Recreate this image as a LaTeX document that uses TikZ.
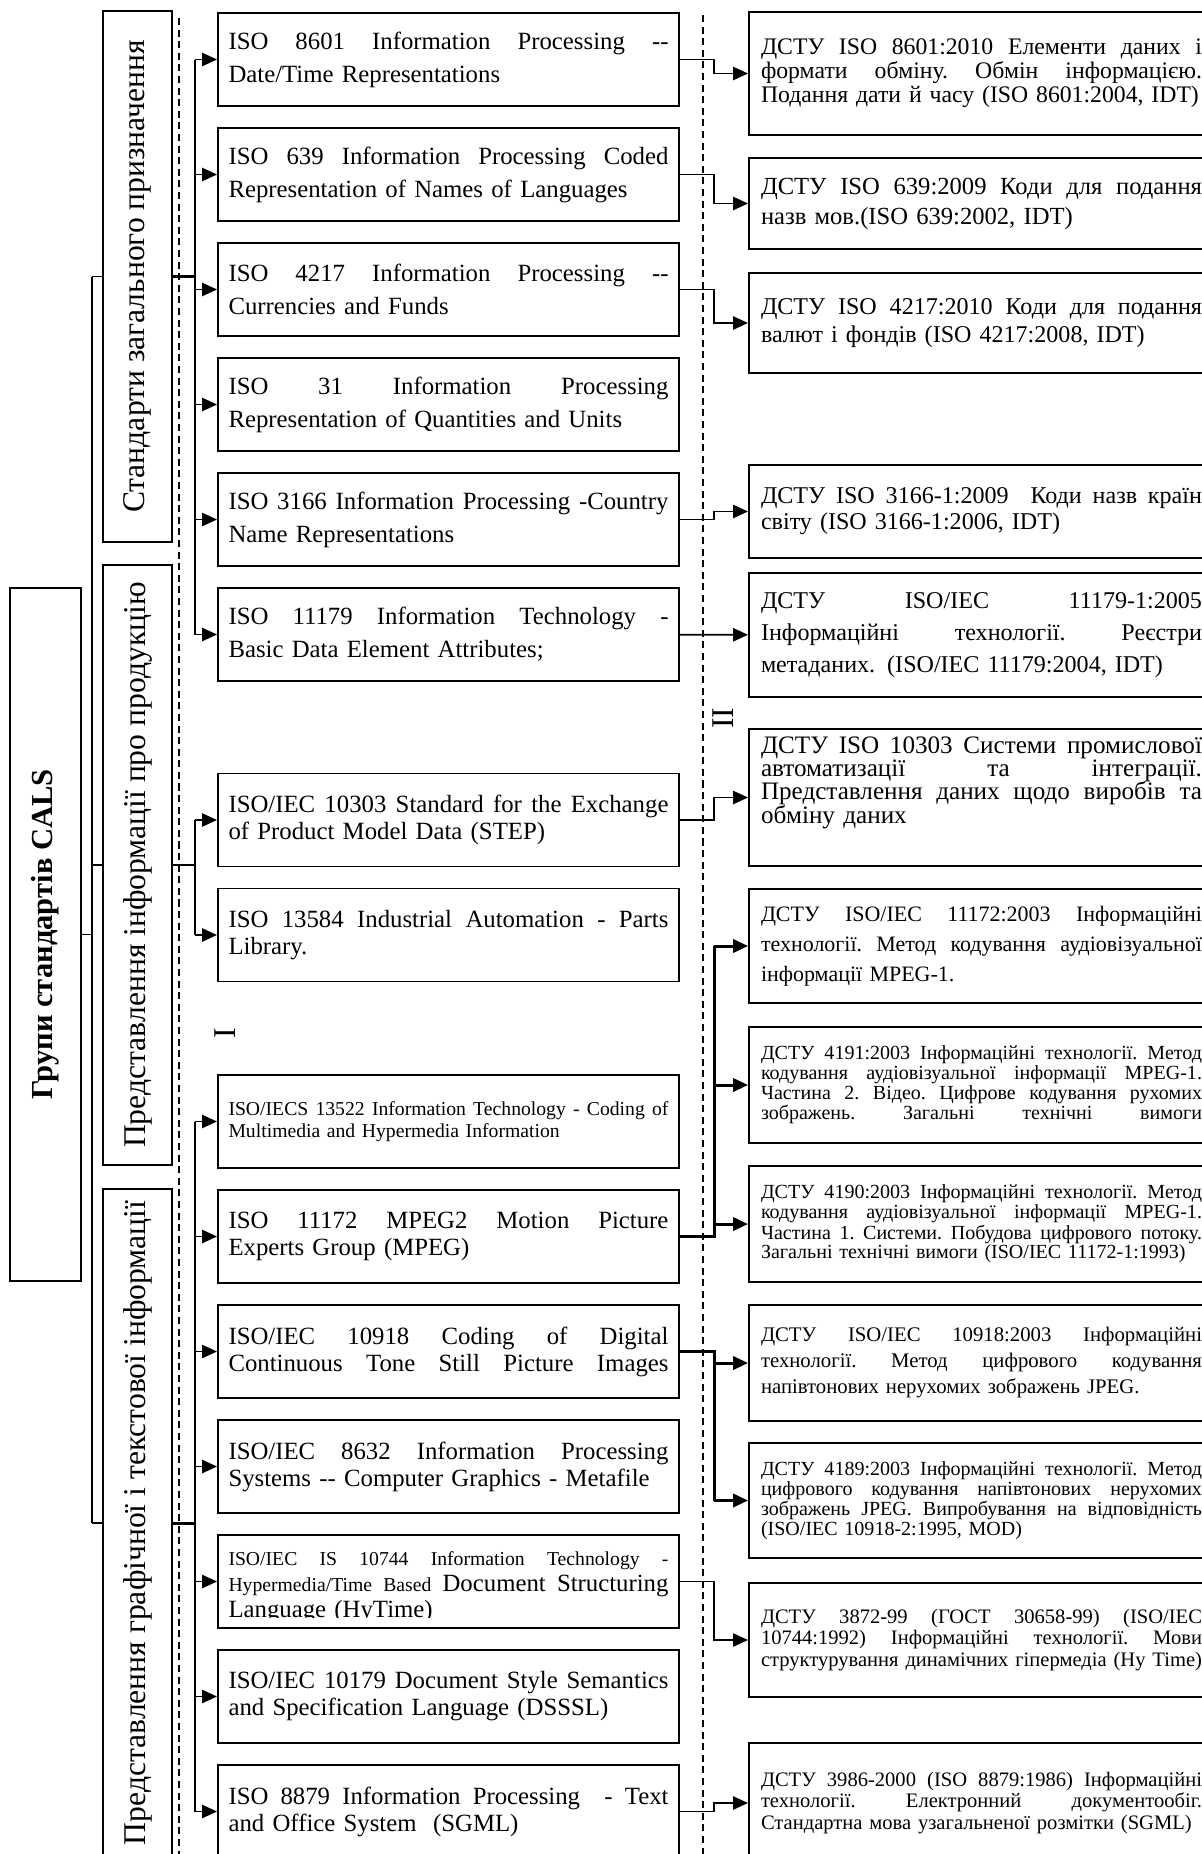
\documentclass[tikz,border=0pt]{standalone}
\usepackage{fontspec}
\setmainfont{Liberation Serif}
\usetikzlibrary{arrows.meta}

\lineskiplimit=-100pt
\newcommand{\jl}[2][8.8cm]{\leavevmode\hbox to #1{\frenchspacing\spaceskip=.25em plus 1fil\relax#2}}
\newcommand{\twohyph}{-\kern0pt\relax-}

\begin{document}
\begin{tikzpicture}[line width=1.1pt,
	midbox/.style={draw, text width=8.8cm, inner xsep=0.21cm, inner ysep=0pt, minimum height=1.86cm, align=left, font=\fontsize{14.1}{18.8}\selectfont},
	tight/.style={font=\fontsize{14.1}{15.4}\selectfont},
	rbox/.style={draw, text width=8.82cm, inner xsep=0.24cm, inner ysep=0pt, align=left},
	grpbox/.style={draw, rotate=90, minimum height=1.38cm, inner sep=0pt, font=\fontsize{18}{20}\selectfont},
	arr/.style={-{Triangle[length=8.5pt,width=7.5pt]}},
	busline/.style={line width=1.7pt},
	sepline/.style={dash pattern=on 4pt off 2.6pt}]
		\useasboundingbox (0,0) rectangle (24.04,-37.08);
		
		\node[draw, rotate=90, minimum width=13.86cm, minimum height=1.42cm, inner sep=0pt, font=\bfseries\fontsize{17.4}{20}\selectfont](CALS) at (0.91,-18.69){Групи стандартів CALS};
		
		\node[grpbox, minimum width=10.62cm](G1) at (2.75,-5.53){Стандарти загального призначення};
		\node[grpbox, minimum width=12cm](G2) at (2.75,-17.3){Представлення інформації про продукцію};
		\node[grpbox, minimum width=13.36cm](G3) at (2.75,-30.46){Представлення графічної і текстової інформації};
		
		\coordinate(V) at (1.84,0);
		\draw (CALS) -- (V |- CALS);
		\draw (V |- G1) -- (V |- G3);
		\draw (V |- G1) -- (G1);
		\draw (V |- G2) -- (G2);
		\draw (V |- G3) -- (G3);
		
		\draw[sepline] (3.58,-0.36) -- (3.58,-37.2);
		\draw[sepline] (14.06,-0.3) -- (14.06,-37.2);
		\node[rotate=90, font=\fontsize{18}{20}\selectfont](LI) at (4.5,-20.66){I};
		\node[rotate=90, font=\fontsize{18}{20}\selectfont](LII) at (14.46,-14.36){II};
		
		\node[midbox](M1) at (8.97,-1.19){\jl{ISO 8601 Information Processing \twohyph}\\Date/Time Representations};
		\node[midbox, below of=M1, node distance=2.3cm](M2){\jl{ISO 639 Information Processing Coded}\\Representation of Names of Languages};
		\node[midbox, below of=M2, node distance=2.3cm](M3){\jl{ISO 4217 Information Processing \twohyph}\\Currencies and Funds};
		\node[midbox, below of=M3, node distance=2.3cm](M4){\jl{ISO 31 Information Processing}\\Representation of Quantities and Units};
		\node[midbox, below of=M4, node distance=2.3cm](M5){\jl{ISO 3166 Information Processing -Country}\\Name Representations};
		\node[midbox, below of=M5, node distance=2.3cm](M6){\jl{ISO 11179 Information Technology -}\\Basic Data Element Attributes;};
		
		\node[midbox, tight, below of=M6, node distance=3.71cm](M7){\jl{ISO/IEC 10303 Standard for the Exchange}\\of Product Model Data (STEP)};
		\node[midbox, tight, below of=M7, node distance=2.3cm](M8){\jl{ISO 13584 Industrial Automation - Parts}\\Library.};
		
		\node[midbox, font=\fontsize{11.2}{12.5}\selectfont, below of=M8, node distance=3.73cm](M9){\jl{ISO/IECS 13522 Information Technology - Coding of}\\Multimedia and Hypermedia Information};
		\node[midbox, tight, below of=M9, node distance=2.3cm](M10){\jl{ISO 11172 MPEG2 Motion Picture}\\Experts Group (MPEG)};
		\node[midbox, tight, below of=M10, node distance=2.3cm](M11){\jl{ISO/IEC 10918 Coding of Digital}\\\jl{Continuous Tone Still Picture Images}};
		\node[midbox, tight, below of=M11, node distance=2.3cm](M12){\jl{ISO/IEC 8632 Information Processing}\\Systems \twohyph{} Computer Graphics - Metafile};
		\node[midbox, below of=M12, node distance=2.3cm](M13){};
		\begin{scope}
			\clip (M13.north west) rectangle ([yshift=0.22cm]M13.south east);
			\node[midbox, draw=none, font=\fontsize{14.1}{14.8}\selectfont, yshift=-0.12cm](M13t) at (M13){\jl{\fontsize{11.2}{12}\selectfont ISO/IEC IS 10744 Information Technology -}\\\jl{{\fontsize{11.2}{12}\selectfont Hypermedia/Time Based} Document Structuring}\\Language (HyTime)};
		\end{scope}
		\node[midbox, tight, below of=M13, node distance=2.3cm](M14){\jl{ISO/IEC 10179 Document Style Semantics}\\and Specification Language (DSSSL)};
		\node[midbox, tight, below of=M14, node distance=2.3cm](M15){\jl{ISO 8879 Information Processing~ - Text}\\and Office System~ (SGML)};
		
		\coordinate(B) at (3.9,0);
		\draw[busline] (G1) -- (B |- G1);
		\draw (B |- M1) -- (B |- M6);
		\draw[arr] (B |- M1) -- (M1);
		\draw[arr] (B |- M2) -- (M2);
		\draw[arr] (B |- M3) -- (M3);
		\draw[arr] (B |- M4) -- (M4);
		\draw[arr] (B |- M5) -- (M5);
		\draw[arr] (B |- M6) -- (M6);
		
		\draw (G2) -- (B |- G2);
		\draw (B |- M7) -- (B |- M8);
		\draw[arr] (B |- M7) -- (M7);
		\draw[arr] (B |- M8) -- (M8);
		
		\draw[busline] (G3) -- (B |- G3);
		\draw (B |- M9) -- (B |- M15);
		\draw[arr] (B |- M9) -- (M9);
		\draw[arr] (B |- M10) -- (M10);
		\draw[arr] (B |- M11) -- (M11);
		\draw[arr] (B |- M12) -- (M12);
		\draw[arr] (B |- M13) -- (M13);
		\draw[arr] (B |- M14) -- (M14);
		\draw[arr] (B |- M15) -- (M15);
		
		\node[rbox, minimum height=2.46cm, font=\fontsize{13.5}{13.7}\selectfont](R1) at (19.63,-1.47){\jl[8.82cm]{ДСТУ ISO 8601:2010 Елементи даних і}\\\jl[8.82cm]{формати обміну. Обмін інформацією.}\\Подання дати й часу (ISO 8601:2004, IDT)};
		\node[rbox, minimum height=1.82cm, font=\fontsize{14}{17.1}\selectfont, below of=R1, node distance=2.6cm](R2){\jl[8.82cm]{ДСТУ ISO 639:2009 Коди для подання}\\назв мов.(ISO 639:2002, IDT)};
		\node[rbox, minimum height=2cm, font=\fontsize{13.7}{15.9}\selectfont, below of=R2, node distance=2.39cm](R3){\jl[8.82cm]{ДСТУ ISO 4217:2010 Коди для подання}\\валют і фондів (ISO 4217:2008, IDT)};
		\node[rbox, minimum height=1.86cm, font=\fontsize{13.7}{14.8}\selectfont, below of=R3, node distance=3.77cm](R4){\jl[8.82cm]{ДСТУ ISO 3166-1:2009~ Коди назв країн}\\світу (ISO 3166-1:2006, IDT)};
		\node[rbox, minimum height=2.48cm, font=\fontsize{13.7}{18.2}\selectfont, below of=R4, node distance=2.47cm](R5){\jl[8.82cm]{ДСТУ ISO/IEC 11179-1:2005}\\\jl[8.82cm]{Інформаційні технології. Реєстри}\\метаданих. (ISO/IEC 11179:2004, IDT)};
		\node[rbox, minimum height=2.74cm, font=\fontsize{14.3}{13.3}\selectfont, below of=R5, node distance=3.25cm](R6){\jl[8.82cm]{ДСТУ ISO 10303 Системи промислової}\\\jl[8.82cm]{автоматизації та інтеграції.}\\\jl[8.82cm]{Представлення даних щодо виробів та}\\обміну даних\par\vspace{0.6cm}\hrule height 0pt};
		\node[rbox, minimum height=2.28cm, font=\fontsize{12.5}{17.1}\selectfont, below of=R6, node distance=2.97cm](R7){\jl[8.82cm]{ДСТУ ISO/IEC 11172:2003 Інформаційні}\\\jl[8.82cm]{технології. Метод кодування аудіовізуальної}\\інформації MPEG-1.};
		\node[rbox, minimum height=2.32cm, font=\fontsize{11.4}{9.4}\selectfont, below of=R7, node distance=2.78cm](R8){\jl[8.82cm]{ДСТУ 4191:2003 Інформаційні технології. Метод}\\\jl[8.82cm]{кодування аудіовізуальної інформації MPEG-1.}\\\jl[8.82cm]{Частина 2. Відео. Цифрове кодування рухомих}\\\jl[8.82cm]{зображень. Загальні технічні вимоги}};
		\node[rbox, minimum height=2.32cm, font=\fontsize{11.4}{9.4}\selectfont, below of=R8, node distance=2.78cm](R9){\jl[8.82cm]{ДСТУ 4190:2003 Інформаційні технології. Метод}\\\jl[8.82cm]{кодування аудіовізуальної інформації MPEG-1.}\\\jl[8.82cm]{Частина 1. Системи. Побудова цифрового потоку.}\\Загальні технічні вимоги (ISO/IEC 11172-1:1993)};
		\node[rbox, minimum height=2.32cm, font=\fontsize{11.8}{14.8}\selectfont, below of=R9, node distance=2.78cm](R10){\jl[8.82cm]{ДСТУ ISO/IEC 10918:2003 Інформаційні}\\\jl[8.82cm]{технології. Метод цифрового кодування}\\напівтонових нерухомих зображень JPEG.};
		\node[rbox, minimum height=2.3cm, font=\fontsize{11.4}{9.4}\selectfont, below of=R10, node distance=2.75cm](R11){\jl[8.82cm]{ДСТУ 4189:2003 Інформаційні технології. Метод}\\\jl[8.82cm]{цифрового кодування напівтонових нерухомих}\\\jl[8.82cm]{зображень JPEG. Випробування на відповідність}\\(ISO/IEC 10918-2:1995, MOD)};
		\node[rbox, minimum height=2.28cm, font=\fontsize{11.7}{12}\selectfont, below of=R11, node distance=2.79cm](R12){\jl[8.82cm]{ДСТУ 3872-99 (ГОСТ 30658-99) (ISO/IEC}\\\jl[8.82cm]{10744:1992) Інформаційні технології. Мови}\\структурування динамічних гіпермедіа (Hy Time)};
		\node[rbox, minimum height=2.4cm, font=\fontsize{11.7}{12}\selectfont, below of=R12, node distance=3.26cm](R13){\jl[8.82cm]{ДСТУ 3986-2000 (ISO 8879:1986) Інформаційні}\\\jl[8.82cm]{технології. Електронний документообіг.}\\Стандартна мова узагальненої розмітки (SGML)};
		
		\coordinate(E) at (14.28,0);
		\draw[arr] (M1) -- (E |- M1) |- (R1);
		\draw[arr] (M2) -- (E |- M2) |- (R2);
		\draw[arr] (M3) -- (E |- M3) |- (R3);
		\draw[arr] (M5) -- (E |- M5) |- (R4);
		\draw[arr] (M6) -- (R5);
		\draw[arr] (M7) -- (E |- M7) |- (R6);
		
		\draw[busline] (M10) -- (E |- M10) -- (E |- R7);
		\draw[arr, busline] (E |- R7) -- (R7);
		\draw[arr, busline] (E |- R8) -- (R8);
		\draw[arr, busline] (E |- R9) -- (R9);
		
		\draw[busline] (M11) -- (E |- M11) -- (E |- R11);
		\draw[arr, busline] (E |- R10) -- (R10);
		\draw[arr, busline] (E |- R11) -- (R11);
		
		\draw[arr] (M13) -- (E |- M13) |- (R12);
		\draw[arr] (M15) -- (E |- M15) |- (R13);
\end{tikzpicture}
\end{document}
